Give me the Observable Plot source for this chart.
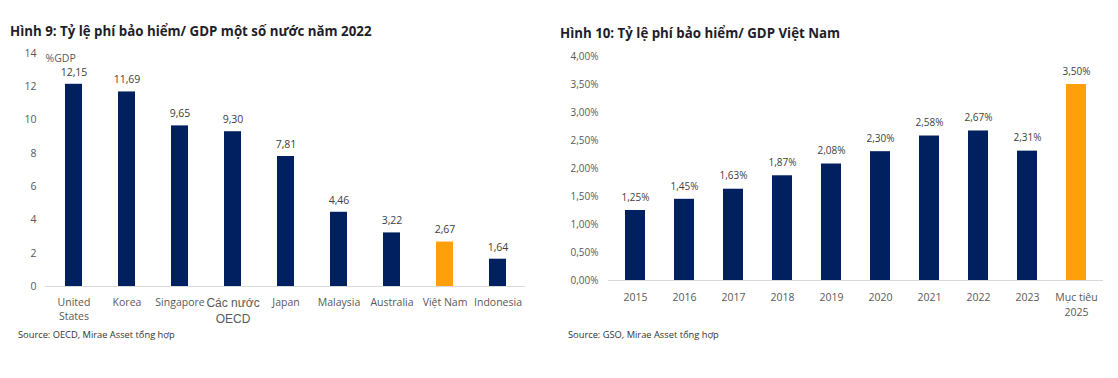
<!DOCTYPE html>
<html>
<head>
<meta charset="utf-8">
<script src="https://cdn.jsdelivr.net/npm/d3@7"></script>
<script src="https://cdn.jsdelivr.net/npm/@observablehq/plot@0.6"></script>
<style>
  html, body { margin: 0; padding: 0; background: #fff; }
  #wrap { position: relative; width: 1118px; height: 378px; background: #fff; overflow: hidden; font-family: "Open Sans", sans-serif; }
  .title { position: absolute; font-weight: 700; font-size: 13.3px; color: #1e1e2a; white-space: nowrap; }
  .src { position: absolute; font-size: 9.3px; color: #333; white-space: nowrap; }
  .plot { position: absolute; top: 40px; }
</style>
</head>
<body>
<div id="wrap">
  <div class="title" style="left:10px; top:22px;">Hình 9: Tỷ lệ phí bảo hiểm/ GDP một số nước năm 2022</div>
  <div class="title" style="left:560px; top:24px;">Hình 10: Tỷ lệ phí bảo hiểm/ GDP Việt Nam</div>
  <div id="left" class="plot" style="left:0px;"></div>
  <div id="right" class="plot" style="left:550px;"></div>
  <div class="src" style="left:18px; top:328px;">Source: OECD, Mirae Asset tổng hợp</div>
  <div class="src" style="left:568px; top:328px;">Source: GSO, Mirae Asset tổng hợp</div>
</div>
<script>
// ---- Chart 1 data ----
const countries = ["United\nStates", "Korea", "Singapore", "Các nước\nOECD", "Japan", "Malaysia", "Australia", "Việt Nam", "Indonesia"];
const countryValues = [12.15, 11.69, 9.65, 9.30, 7.81, 4.46, 3.22, 2.67, 1.64];
const countryHighlight = "Việt Nam";
const yTicks1 = [0, 2, 4, 6, 8, 10, 12, 14];
const yUnit1 = "%GDP";

// ---- Chart 2 data ----
const years = ["2015", "2016", "2017", "2018", "2019", "2020", "2021", "2022", "2023", "Mục tiêu\n2025"];
const vnValues = [1.25, 1.45, 1.63, 1.87, 2.08, 2.30, 2.58, 2.67, 2.31, 3.50];
const vnHighlight = "Mục tiêu\n2025";
const yTicks2 = [0, 0.5, 1, 1.5, 2, 2.5, 3, 3.5, 4];

const NAVY = "#002060";
const ORANGE = "#FFA00A";
const comma = (v, d) => v.toFixed(d).replace(".", ",");

const d1 = countries.map((c, i) => ({c, v: countryValues[i]}));
const d2 = years.map((c, i) => ({c, v: vnValues[i]}));

const style = {fontFamily: "'Open Sans', sans-serif", fontSize: "10px", color: "#595959", background: "transparent", overflow: "visible"};

const p1 = Plot.plot({
  width: 545, height: 300,
  marginLeft: 45, marginRight: 20, marginTop: 13, marginBottom: 54,
  style,
  x: {domain: countries, padding: 0.68, paddingOuter: 0.335},
  y: {domain: [0, 14]},
  marks: [
    Plot.axisY({ticks: yTicks1, tickSize: 0, tickPadding: 9, label: null, fontSize: 10.5}),
    Plot.axisX({tickSize: 0, tickPadding: 9, label: null, lineHeight: 1.35, fontSize: 10.5}),
    Plot.barY(d1, {x: "c", y: "v", fill: d => d.c === countryHighlight ? ORANGE : NAVY}),
    Plot.ruleY([0], {stroke: "#d9d9d9"}),
    Plot.text(d1, {x: "c", y: "v", text: d => comma(d.v, 2), dy: -12, fill: "#404040", fontSize: 10.5}),
    Plot.text([yUnit1], {frameAnchor: "top-left", dx: 0, dy: 1, text: d => d, fill: "#595959", fontSize: 10.5, textAnchor: "start"})
  ]
});
document.getElementById("left").appendChild(p1);
d3.select(p1).selectAll("text").filter(function() { return this.textContent.startsWith("Các"); })
  .style("font-family", "'Liberation Sans', Arial, sans-serif").style("font-size", "12px");

const p2 = Plot.plot({
  width: 568, height: 300,
  marginLeft: 58, marginRight: 15, marginTop: 16, marginBottom: 60,
  style,
  x: {domain: years, padding: 0.6, paddingOuter: 0.283},
  y: {domain: [0, 4]},
  marks: [
    Plot.axisY({ticks: yTicks2, tickSize: 0, tickPadding: 10, label: null, tickFormat: v => comma(v, 2) + "%", fontSize: 10}),
    Plot.axisX({tickSize: 0, tickPadding: 9, label: null, lineHeight: 1.5, fontSize: 10.5}),
    Plot.barY(d2, {x: "c", y: "v", fill: d => d.c === vnHighlight ? ORANGE : NAVY}),
    Plot.ruleY([0], {stroke: "#d9d9d9"}),
    Plot.text(d2, {x: "c", y: "v", text: d => comma(d.v, 2) + "%", dy: -13, fill: "#404040", fontSize: 10})
  ]
});
document.getElementById("right").appendChild(p2);
</script>
</body>
</html>
